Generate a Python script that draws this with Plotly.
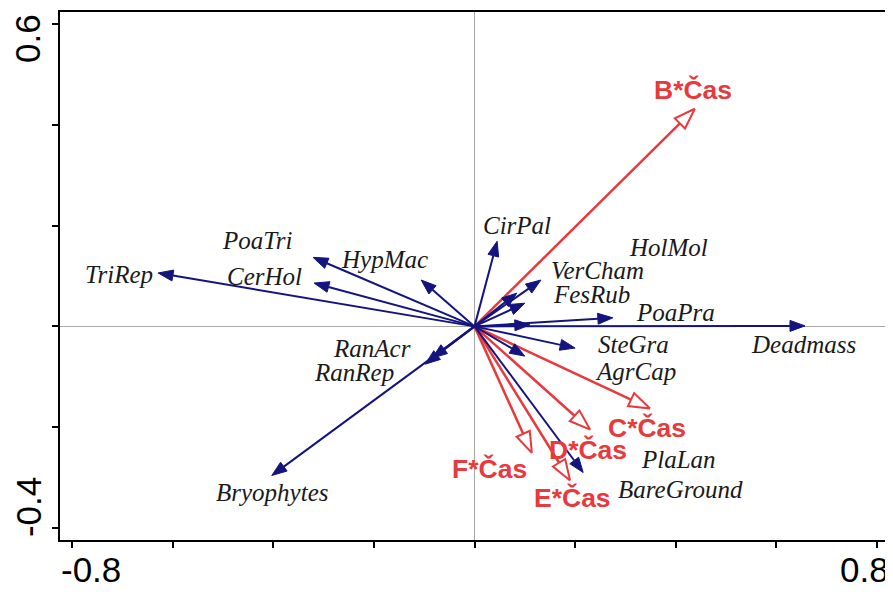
import math
import plotly.graph_objects as go

# ---- data ----
species = ["TriRep", "PoaTri", "CerHol", "HypMac", "RanAcr", "RanRep", "Bryophytes",
           "CirPal", "HolMol", "VerCham", "FesRub", "PoaPra", "Deadmass", "SteGra",
           "AgrCap", "PlaLan", "BareGround"]
sp_x = [-0.629, -0.321, -0.319, -0.106, -0.084, -0.098, -0.403,
        0.045, 0.084, 0.132, 0.100, 0.275, 0.657, 0.200,
        0.100, 0.110, 0.216]
sp_y = [0.106, 0.137, 0.086, 0.092, -0.063, -0.075, -0.296,
        0.169, 0.066, 0.092, 0.046, 0.017, 0.001, -0.043,
        -0.059, 0.003, -0.290]
sp_lab_x = [-0.707, -0.432, -0.418, -0.179, -0.204, -0.240, -0.403,
            0.084, 0.385, 0.244, 0.232, 0.399, 0.655, 0.317,
            0.321, 0.405, 0.409]
sp_lab_y = [0.102, 0.170, 0.100, 0.133, -0.043, -0.092, -0.329,
            0.200, 0.157, 0.110, 0.064, 0.028, -0.035, -0.035,
            -0.090, -0.264, -0.323]

terms = ["B*Čas", "C*Čas", "D*Čas", "E*Čas", "F*Čas"]
tm_x = [0.438, 0.349, 0.230, 0.190, 0.114]
tm_y = [0.432, -0.163, -0.205, -0.306, -0.251]
tm_lab_x = [0.434, 0.343, 0.226, 0.194, 0.029]
tm_lab_y = [0.470, -0.201, -0.245, -0.340, -0.284]

x_ticks = [-0.8, -0.6, -0.4, -0.2, 0.0, 0.2, 0.4, 0.6, 0.8]
y_ticks = [-0.4, -0.2, 0.0, 0.2, 0.4, 0.6]

# ---- layout geometry (page body has an 8px margin) ----
OFF = 8
W, H = 893 - OFF, 592 - OFF
ML, MR, MT, MB = 60 - OFF, 5, 10 - OFF, 52
XR = [-0.824, 0.822]
YR = [-0.424, 0.624]
PW, PH = W - ML - MR, H - MT - MB
SX = PW / (XR[1] - XR[0])
SY = PH / (YR[1] - YR[0])

BLUE = "#14147f"
RED = "#e8393c"


def head(x, y, L, hw):
    px, py = x * SX, y * SY
    n = math.hypot(px, py)
    ux, uy = px / n, py / n
    bx, by = px - L * ux, py - L * uy
    c1 = (bx - hw * uy, by + hw * ux)
    c2 = (bx + hw * uy, by - hw * ux)
    pts = [(px / SX, py / SY), (c1[0] / SX, c1[1] / SY), (c2[0] / SX, c2[1] / SY)]
    return pts, (bx / SX, by / SY)


def paper_x(px):
    return (px - OFF - ML) / PW


def paper_y(py):
    return (OFF + MT + PH - py) / PH


fig = go.Figure()

# red (term) arrows
rlx, rly, rhx, rhy = [], [], [], []
for x, y in zip(tm_x, tm_y):
    pts, base = head(x, y, 21, 7.2)
    rlx += [0, base[0], None]
    rly += [0, base[1], None]
    rhx += [p[0] for p in pts] + [pts[0][0], None]
    rhy += [p[1] for p in pts] + [pts[0][1], None]
fig.add_trace(go.Scatter(x=rlx, y=rly, mode="lines", line=dict(color=RED, width=2.5),
                         hoverinfo="skip", showlegend=False))
fig.add_trace(go.Scatter(x=rhx, y=rhy, mode="lines", line=dict(color=RED, width=2),
                         hoverinfo="skip", showlegend=False))

# blue (species) arrows
blx, bly, bhx, bhy = [], [], [], []
for x, y in zip(sp_x, sp_y):
    pts, base = head(x, y, 15, 5.5)
    blx += [0, base[0], None]
    bly += [0, base[1], None]
    bhx += [p[0] for p in pts] + [pts[0][0], None]
    bhy += [p[1] for p in pts] + [pts[0][1], None]
fig.add_trace(go.Scatter(x=blx, y=bly, mode="lines", line=dict(color=BLUE, width=2),
                         hoverinfo="skip", showlegend=False))
fig.add_trace(go.Scatter(x=bhx, y=bhy, mode="lines", fill="toself", fillcolor=BLUE,
                         line=dict(color=BLUE, width=1),
                         hoverinfo="skip", showlegend=False))

# species labels
for name, lx, ly in zip(species, sp_lab_x, sp_lab_y):
    fig.add_annotation(x=lx, y=ly, text=name, showarrow=False,
                       xanchor="center", yanchor="middle",
                       font=dict(family="Liberation Serif", size=25, color="#1a1a1a",
                                 style="italic"))

# term labels
for name, lx, ly in zip(terms, tm_lab_x, tm_lab_y):
    fig.add_annotation(x=lx, y=ly, text="<b>" + name + "</b>", showarrow=False,
                       xanchor="center", yanchor="middle",
                       font=dict(family="Liberation Sans", size=26.5, color=RED))

# tick labels (only the extremes are labelled)
tick_font = dict(family="Liberation Sans", size=35, color="black")
fig.add_annotation(x=paper_x(91), y=paper_y(570), xref="paper", yref="paper",
                   text="-0.8", showarrow=False, xanchor="center", yanchor="middle",
                   font=tick_font)
fig.add_annotation(x=paper_x(864), y=paper_y(570), xref="paper", yref="paper",
                   text="0.8", showarrow=False, xanchor="center", yanchor="middle",
                   font=tick_font)
fig.add_annotation(x=paper_x(28), y=paper_y(37), xref="paper", yref="paper",
                   text="0.6", showarrow=False, textangle=-90,
                   xanchor="center", yanchor="middle", font=tick_font)
fig.add_annotation(x=paper_x(28), y=paper_y(507), xref="paper", yref="paper",
                   text="-0.4", showarrow=False, textangle=-90,
                   xanchor="center", yanchor="middle", font=tick_font)

axis_common = dict(showgrid=False, zeroline=True, zerolinecolor="#a8a8a8", zerolinewidth=1,
                   showline=True, mirror=True, linecolor="black", linewidth=2,
                   ticks="outside", ticklen=6, tickwidth=1.5, tickcolor="black",
                   showticklabels=False, fixedrange=True)
fig.update_xaxes(range=XR, tickvals=x_ticks, **axis_common)
fig.update_yaxes(range=YR, tickvals=y_ticks, **axis_common)

fig.update_layout(width=W, height=H, margin=dict(l=ML, r=MR, t=MT, b=MB),
                  plot_bgcolor="white", paper_bgcolor="white", showlegend=False)

fig.write_html("out.html")
